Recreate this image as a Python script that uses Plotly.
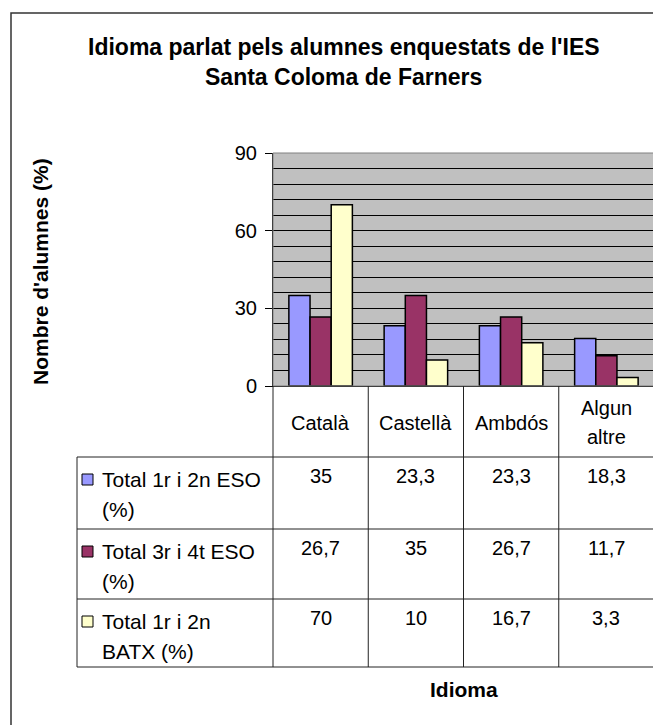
import textwrap
import plotly.graph_objects as go

# ---------------- data ----------------
categories = ["Català", "Castellà", "Ambdós", "Algun altre"]
series_names = ["Total 1r i 2n ESO (%)", "Total 3r i 4t ESO (%)", "Total 1r i 2n BATX (%)"]
eso12 = [35, 23.3, 23.3, 18.3]
eso34 = [26.7, 35, 26.7, 11.7]
batx = [70, 10, 16.7, 3.3]
series_values = [eso12, eso34, batx]
colors = ["#9999FF", "#993366", "#FFFFCC"]
y_ticks = [0, 30, 60, 90]
title_lines = ["Idioma parlat pels alumnes enquestats de l'IES", "Santa Coloma de Farners"]
y_title = "Nombre d'alumnes (%)"
x_title = "Idioma"

# ---------------- geometry (page pixels) ----------------
PAGE_W, PAGE_H = 661, 725
BODY = 8                                  # default page margin around the figure
L, R, T, B = 273, 654, 153, 386          # plot area in page pixels
TBL_LEFT = 77
ROW_LINES = [457, 529, 599, 667]         # bottoms of header / rows
FONT = "Arial, Liberation Sans, sans-serif"


def px(x):
    return (x - L) / (R - L)


def py(y):
    return (B - y) / (B - T)


def fmt(v):
    return f"{v:g}".replace(".", ",")


fig = go.Figure()
for name, vals, col in zip(series_names, series_values, colors):
    fig.add_trace(go.Bar(
        x=categories, y=vals, name=name,
        marker=dict(color=col, line=dict(color="black", width=1.5)),
    ))

shapes = []
annotations = []

# outer chart border
shapes.append(dict(type="rect", xref="paper", yref="paper",
                   x0=px(11), x1=px(690), y0=py(13), y1=py(760),
                   line=dict(color="#333333", width=1.5), layer="below"))
# plot area border (gray)
shapes.append(dict(type="rect", xref="paper", yref="paper",
                   x0=0, x1=1, y0=0, y1=1,
                   line=dict(color="#808080", width=1), layer="above"))

line_style = dict(color="#222222", width=1)
n = len(categories)
for i in range(n + 1):
    shapes.append(dict(type="line", xref="paper", yref="paper",
                       x0=i / n, x1=i / n, y0=0, y1=py(ROW_LINES[-1]),
                       line=line_style))
shapes.append(dict(type="line", xref="paper", yref="paper",
                   x0=px(TBL_LEFT), x1=px(TBL_LEFT),
                   y0=py(ROW_LINES[0]), y1=py(ROW_LINES[-1]), line=line_style))
for yl in ROW_LINES:
    shapes.append(dict(type="line", xref="paper", yref="paper",
                       x0=px(TBL_LEFT), x1=1, y0=py(yl), y1=py(yl),
                       line=line_style))

# header: category names
hdr_center = (B + ROW_LINES[0]) / 2 + 1
for i, cat in enumerate(categories):
    lines = textwrap.wrap(cat, 9)
    for k, ln in enumerate(lines):
        yy = hdr_center + (k - (len(lines) - 1) / 2) * 29
        annotations.append(dict(xref="paper", yref="paper", x=(i + 0.5) / n, y=py(yy),
                                text=ln, showarrow=False, xanchor="center", yanchor="middle",
                                font=dict(family=FONT, size=20, color="black")))

# rows: legend key, label, values
row_tops = ROW_LINES[:-1]
for r, (name, vals, col) in enumerate(zip(series_names, series_values, colors)):
    y1 = row_tops[r] + 22
    shapes.append(dict(type="rect", xref="paper", yref="paper",
                       x0=px(82), x1=px(93), y0=py(y1 - 5), y1=py(y1 + 6),
                       fillcolor=col, line=dict(color="black", width=1)))
    for k, ln in enumerate(textwrap.wrap(name, 17)):
        annotations.append(dict(xref="paper", yref="paper", x=px(100), y=py(y1 + 30 * k),
                                text=ln, showarrow=False, xanchor="left", yanchor="middle",
                                font=dict(family=FONT, size=21, color="black")))
    for i, v in enumerate(vals):
        annotations.append(dict(xref="paper", yref="paper", x=(i + 0.5) / n, y=py(y1 - 3),
                                text=fmt(v), showarrow=False, xanchor="center", yanchor="middle",
                                font=dict(family=FONT, size=20, color="black")))

# titles
for k, ln in enumerate(title_lines):
    annotations.append(dict(xref="paper", yref="paper", x=px(343.5), y=py(47 + 30 * k),
                            text=f"<b>{ln}</b>", showarrow=False, xanchor="center", yanchor="middle",
                            font=dict(family=FONT, size=23, color="black")))
annotations.append(dict(xref="paper", yref="paper", x=px(40), y=py(272),
                        text=f"<b>{y_title}</b>", textangle=-90, showarrow=False,
                        xanchor="center", yanchor="middle",
                        font=dict(family=FONT, size=21, color="black")))
annotations.append(dict(xref="paper", yref="paper", x=0.5, y=py(690),
                        text=f"<b>{x_title}</b>", showarrow=False,
                        xanchor="center", yanchor="middle",
                        font=dict(family=FONT, size=21, color="black")))

fig.update_layout(
    width=PAGE_W - BODY, height=PAGE_H - BODY, autosize=False,
    margin=dict(l=L - BODY, r=PAGE_W - R, t=T - BODY, b=PAGE_H - B, pad=0),
    paper_bgcolor="white", plot_bgcolor="#C0C0C0",
    barmode="group", bargap=1.5 / 4.5, bargroupgap=0,
    showlegend=False,
    shapes=shapes, annotations=annotations,
    font=dict(family=FONT, size=20, color="black"),
)
fig.update_xaxes(range=[-0.5, n - 0.5], showticklabels=False, showgrid=False,
                 showline=True, linecolor="black", linewidth=1, ticks="", zeroline=False)
fig.update_yaxes(range=[0, 90], tickvals=y_ticks, ticktext=[str(t) for t in y_ticks],
                 showline=True, linecolor="black", linewidth=1,
                 ticks="outside", ticklen=7, tickcolor="black", ticklabelstandoff=4,
                 showgrid=True, gridcolor="black", gridwidth=1, zeroline=False,
                 minor=dict(dtick=6, showgrid=True, gridcolor="black", gridwidth=1, ticks=""),
                 tickfont=dict(family=FONT, size=20, color="black"))

fig.write_html("out.html")
